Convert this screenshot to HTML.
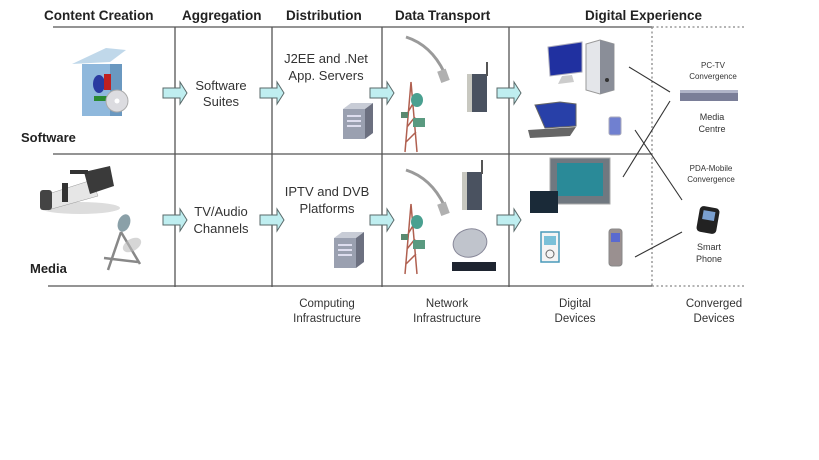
<!DOCTYPE html>
<html><head><meta charset="utf-8"><style>
html,body{margin:0;padding:0;background:#fff;}
svg{display:block;font-family:"Liberation Sans",Arial,sans-serif;}
</style></head><body>
<svg width="819" height="460" viewBox="0 0 819 460" xmlns="http://www.w3.org/2000/svg">
<defs>
<g id="arr"><path d="M0,-5 H17 V-11 L24,0 L17,11 V5 H0 Z" fill="#bfeef0" stroke="#5a6a6a" stroke-width="1"/></g>
<g id="srv"><path d="M0,6 L8,0 H30 L22,6 Z" fill="#c8ccd6"/><rect x="0" y="6" width="22" height="30" fill="#9aa0b0"/><path d="M22,6 L30,0 V30 L22,36 Z" fill="#6c7080"/><rect x="4" y="12" width="14" height="2" fill="#dde"/><rect x="4" y="17" width="14" height="2" fill="#dde"/><rect x="4" y="22" width="14" height="2" fill="#dde"/></g>
<g id="tower"><path d="M8,0 L2,70 M8,0 L14,70 M3,60 L13,50 M4,45 L12,35 M5,30 L11,20" stroke="#b06050" stroke-width="1.5" fill="none"/><ellipse cx="14" cy="18" rx="6" ry="7" fill="#4aa090"/><rect x="10" y="36" width="12" height="9" fill="#5a9a80"/><rect x="-2" y="30" width="7" height="6" fill="#5a8a70"/></g>
<g id="cable"><path d="M0,0 Q25,8 38,35" stroke="#9a9a9a" stroke-width="3" fill="none"/><rect x="33" y="33" width="9" height="12" fill="#b0b0b0" transform="rotate(-20 37 39)"/></g>
<g id="router"><rect x="0" y="12" width="20" height="38" fill="#4a5260"/><rect x="0" y="12" width="5" height="38" fill="#c8c8c0"/><rect x="19" y="0" width="2" height="14" fill="#555"/></g>
</defs>

<g font-weight="bold" font-size="13.5" fill="#222">
<text x="44" y="20">Content Creation</text>
<text x="182" y="20">Aggregation</text>
<text x="286" y="20">Distribution</text>
<text x="395" y="20">Data Transport</text>
<text x="585" y="20">Digital Experience</text>
</g>

<g stroke="#555" stroke-width="1.3">
<line x1="53" y1="27" x2="652" y2="27"/>
<line x1="53" y1="154" x2="652" y2="154"/>
<line x1="48" y1="286" x2="652" y2="286"/>
<line x1="175" y1="27" x2="175" y2="287"/>
<line x1="272" y1="27" x2="272" y2="287"/>
<line x1="382" y1="27" x2="382" y2="287"/>
<line x1="509" y1="27" x2="509" y2="287"/>
</g>
<g stroke="#888" stroke-width="1.3" stroke-dasharray="2,2.5">
<line x1="652" y1="27" x2="745" y2="27"/>
<line x1="652" y1="286" x2="745" y2="286"/>
<line x1="652" y1="27" x2="652" y2="286"/>
</g>

<use href="#arr" x="163" y="93"/><use href="#arr" x="260" y="93"/><use href="#arr" x="370" y="93"/><use href="#arr" x="497" y="93"/>
<use href="#arr" x="163" y="220"/><use href="#arr" x="260" y="220"/><use href="#arr" x="370" y="220"/><use href="#arr" x="497" y="220"/>

<g font-size="13" fill="#333" text-anchor="middle">
<text x="221" y="90">Software</text><text x="221" y="106">Suites</text>
<text x="326" y="63">J2EE and .Net</text><text x="326" y="80">App. Servers</text>
<text x="221" y="216">TV/Audio</text><text x="221" y="233">Channels</text>
<text x="327" y="196">IPTV and DVB</text><text x="327" y="213">Platforms</text>
</g>
<g font-size="11.5" fill="#333" text-anchor="middle">
<text x="327" y="307">Computing</text><text x="327" y="322">Infrastructure</text>
<text x="447" y="307">Network</text><text x="447" y="322">Infrastructure</text>
<text x="575" y="307">Digital</text><text x="575" y="322">Devices</text>
<text x="714" y="307">Converged</text><text x="714" y="322">Devices</text>
</g>
<g font-size="9" fill="#333" text-anchor="middle">
<text x="713" y="68" font-size="8">PC-TV</text><text x="713" y="79" font-size="8">Convergence</text>
<text x="712" y="120">Media</text><text x="712" y="132">Centre</text>
<text x="711" y="171" font-size="8">PDA-Mobile</text><text x="711" y="182" font-size="8">Convergence</text>
<text x="709" y="250">Smart</text><text x="709" y="262">Phone</text>
</g>
<g font-weight="bold" font-size="13" fill="#222">
<text x="21" y="142">Software</text><text x="30" y="273">Media</text>
</g>

<g stroke="#333" stroke-width="1.1">
<line x1="629" y1="67" x2="670" y2="92"/>
<line x1="670" y1="101" x2="623" y2="177"/>
<line x1="635" y1="130" x2="682" y2="200"/>
<line x1="635" y1="257" x2="682" y2="232"/>
</g>

<path d="M72,64 L110,62 L126,50 L106,48 Z" fill="#c0d8ea"/>
<rect x="82" y="64" width="36" height="52" fill="#8fb8dc"/>
<rect x="110" y="64" width="12" height="52" fill="#6a98c0"/>
<ellipse cx="99" cy="84" rx="6" ry="9" fill="#2a3aa0"/>
<rect x="104" y="74" width="7" height="16" fill="#c02020"/>
<rect x="94" y="96" width="14" height="5" fill="#2a8a30"/>
<circle cx="117" cy="101" r="11" fill="#dcdce0" stroke="#aaa"/><circle cx="117" cy="101" r="2.5" fill="#fff"/>

<ellipse cx="80" cy="208" rx="40" ry="6" fill="#ddd"/>
<path d="M42,196 L92,180 L98,196 L48,210 Z" fill="#e6e6e6" stroke="#999" stroke-width=".5"/>
<rect x="40" y="190" width="12" height="20" rx="3" fill="#444"/>
<rect x="62" y="183" width="6" height="19" fill="#333"/>
<path d="M84,172 L110,166 L114,186 L90,194 Z" fill="#3a3a3a"/>
<rect x="70" y="170" width="18" height="4" fill="#333"/>

<ellipse cx="124" cy="223" rx="6" ry="9" fill="#8aa0a8" transform="rotate(20 124 223)"/>
<path d="M121,232 L108,270 M121,232 L140,264 M104,258 L138,262" stroke="#888" stroke-width="2.5" fill="none"/>
<ellipse cx="132" cy="245" rx="10" ry="6" fill="#bbb" opacity=".6" transform="rotate(-30 132 245)"/>

<use href="#srv" x="343" y="103"/>
<use href="#srv" x="334" y="232"/>

<use href="#cable" x="406" y="37"/>
<use href="#tower" x="403" y="82"/>
<use href="#router" x="467" y="62"/>
<use href="#cable" x="406" y="170"/>
<use href="#tower" x="403" y="204"/>
<use href="#router" x="462" y="160"/>
<ellipse cx="470" cy="243" rx="17" ry="14" fill="#c0c4cc" stroke="#889" transform="rotate(-15 470 243)"/>
<rect x="452" y="262" width="44" height="9" fill="#1e2430"/>

<path d="M586,44 L600,40 L614,44 L614,90 L600,94 L586,90 Z" fill="#e4e6ea" stroke="#999"/>
<path d="M600,40 L614,44 L614,90 L600,94 Z" fill="#8a8e98"/>
<circle cx="607" cy="80" r="2" fill="#333"/>
<path d="M548,47 L582,42 L582,72 L550,76 Z" fill="#2030a0" stroke="#aab"/>
<path d="M562,76 L572,75 L574,82 L558,84 Z" fill="#ccc"/>
<path d="M535,105 L560,102 L576,104 L576,126 L545,128 Z" fill="#2840a8" stroke="#666"/>
<path d="M528,130 L576,127 L570,136 L530,138 Z" fill="#666"/>
<rect x="609" y="117" width="12" height="18" rx="2" fill="#7080d0" stroke="#aab"/>
<rect x="550" y="158" width="60" height="46" fill="#707880" stroke="#aaa"/>
<rect x="557" y="163" width="46" height="33" fill="#2a8a98"/>
<rect x="530" y="191" width="28" height="22" fill="#1a2a38"/>
<rect x="541" y="232" width="18" height="30" fill="#f4f4f4" stroke="#4a9aba" stroke-width="1.5"/>
<rect x="544" y="236" width="12" height="9" fill="#7ac0d8"/>
<circle cx="550" cy="254" r="4" fill="none" stroke="#666"/>
<rect x="609" y="229" width="13" height="37" rx="3" fill="#9a9090" stroke="#888"/>
<rect x="611" y="233" width="9" height="9" fill="#5a6ad0"/>

<rect x="680" y="92" width="58" height="9" fill="#7a7e98"/>
<rect x="680" y="90" width="58" height="3" fill="#b0b4c8"/>
<rect x="698" y="207" width="20" height="26" rx="4" fill="#222" transform="rotate(10 708 220)"/>
<rect x="702" y="211" width="12" height="9" fill="#7aa0d0" transform="rotate(10 708 220)"/>
</svg>
</body></html>
